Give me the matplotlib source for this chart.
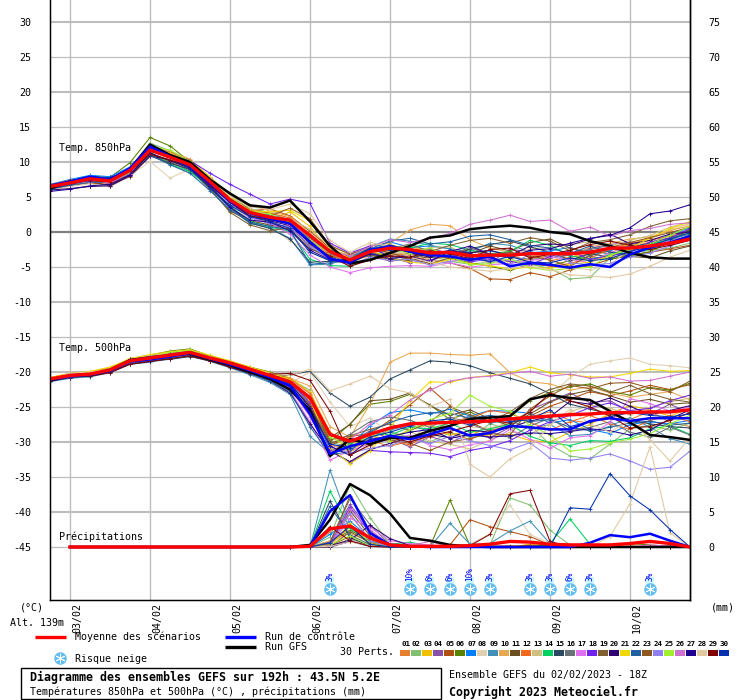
import matplotlib
matplotlib.use('Agg')
import matplotlib.pyplot as plt
from matplotlib.patches import Rectangle

MONO = 'DejaVu Sans Mono'

# Time axis, hours since 02/02 18Z
hours = list(range(0, 198, 6))
rain_hours = list(range(72, 198, 6))
rain_hours_long = list(range(6, 198, 6))
day_hours = [6, 30, 54, 78, 102, 126, 150, 174]
day_labels = ['03/02', '04/02', '05/02', '06/02', '07/02', '08/02', '09/02', '10/02']

pert_colors = ['#e67e30', '#80c070', '#f0c000', '#8a50a8', '#b05010', '#5a8000', '#0080ff', '#e0d0b0',
               '#4090b8', '#e8a850', '#6a5020', '#f06820', '#d0c080', '#00d060', '#2a4860', '#6a7078',
               '#e070f0', '#7020f0', '#806030', '#300070', '#f0d800', '#2060a0', '#905820', '#9080f0',
               '#a0f030', '#d070d0', '#200090', '#e0c8a0', '#800000', '#0030b0']

t850_mean = [6.5, 7.0, 7.6, 7.3, 8.8, 11.7, 10.7, 9.6, 7.2, 4.6, 2.8, 2.1, 1.7, -0.5, -2.8, -4.0, -2.8, -2.3, -2.5, -3.0, -2.9, -3.4, -3.3, -3.3, -3.1, -3.1, -3.1, -2.9, -2.3, -2.3, -2.0, -1.6, -1.0]
t850_ctrl = [6.6, 7.2, 7.9, 7.5, 9.1, 12.2, 10.8, 9.4, 6.9, 4.4, 2.7, 1.9, 1.2, -1.4, -3.8, -4.4, -2.6, -2.0, -2.8, -3.3, -3.5, -4.0, -3.5, -4.9, -4.4, -4.7, -5.1, -4.6, -5.0, -3.2, -2.2, -1.5, -0.6]
t850_gfs = [6.2, 7.2, 7.8, 7.5, 9.0, 12.5, 11.0, 10.0, 7.5, 5.5, 3.8, 3.5, 4.5, 1.5, -2.0, -4.5, -4.0, -3.0, -2.0, -0.8, -0.5, 0.4, 0.7, 0.9, 0.6, 0.0, -0.3, -1.3, -2.0, -3.0, -3.6, -3.8, -3.8]
t850_perts = [
    [6.4, 7.0, 7.5, 7.2, 8.5, 11.8, 10.9, 9.9, 7.4, 4.9, 2.6, 2.0, 1.4, -1.0, -3.1, -4.2, -3.4, -2.8, -2.1, -2.6, -3.4, -3.8, -3.0, -3.7, -2.9, -4.1, -3.6, -3.2, -2.4, -1.9, -1.5, -0.9, -0.2],
    [6.7, 7.3, 7.4, 7.0, 8.9, 12.7, 11.6, 9.9, 7.9, 5.0, 3.3, 2.8, 1.6, -1.8, -3.6, -4.6, -3.0, -3.1, -2.7, -3.4, -4.2, -4.6, -4.3, -3.9, -4.6, -5.2, -6.7, -6.5, -3.7, -3.1, -2.6, -2.3, -1.6],
    [6.6, 6.8, 7.1, 6.7, 8.2, 11.5, 11.0, 9.8, 7.3, 4.6, 2.2, 1.5, 2.9, 0.8, -2.7, -3.6, -2.2, -2.5, -1.9, -3.1, -3.8, -4.1, -3.6, -4.3, -3.8, -3.4, -2.9, -4.2, -3.0, -1.7, -0.9, 0.3, 1.2],
    [6.3, 6.9, 7.7, 7.6, 8.7, 11.1, 10.2, 9.1, 6.7, 4.2, 2.4, 1.1, 0.8, -2.2, -3.9, -4.3, -2.9, -3.6, -3.2, -2.4, -3.0, -3.3, -4.4, -2.5, -2.8, -3.7, -3.2, -2.3, -1.8, -1.4, -2.1, -1.2, -0.7],
    [6.1, 6.6, 7.0, 6.8, 7.9, 10.9, 10.3, 9.5, 7.0, 4.4, 3.0, 3.3, 2.3, 0.1, -2.3, -4.8, -3.7, -3.3, -3.0, -3.9, -4.4, -5.2, -6.7, -6.8, -5.8, -6.4, -5.4, -4.8, -3.9, -3.3, -2.9, -2.4, -1.9],
    [6.5, 7.3, 8.0, 7.8, 9.9, 13.5, 12.3, 10.0, 7.7, 5.3, 3.2, 2.5, 1.5, -1.3, -2.9, -3.4, -2.4, -1.8, -2.6, -3.6, -3.7, -4.4, -4.9, -5.5, -4.6, -4.8, -4.1, -3.5, -3.9, -3.4, -2.8, -1.4, 0.4],
    [6.8, 7.5, 8.1, 7.9, 9.3, 12.1, 11.2, 9.7, 7.1, 4.7, 2.9, 2.4, 1.8, -0.7, -3.2, -3.9, -2.5, -1.4, -2.2, -2.0, -2.4, -2.9, -2.7, -3.2, -3.0, -2.7, -2.2, -3.4, -2.6, -2.0, -1.7, -0.4, 0.6],
    [6.0, 6.5, 6.9, 6.4, 8.0, 10.1, 7.7, 9.0, 6.5, 3.9, 1.8, 0.9, -1.3, -2.8, -4.2, -4.1, -1.7, -2.7, -3.3, -3.9, -4.3, -3.5, -4.6, -4.4, -3.6, -4.8, -5.1, -5.4, -4.7, -2.4, -1.1, 0.4, 1.1],
    [6.2, 6.8, 7.3, 7.1, 8.4, 11.3, 10.0, 8.7, 6.3, 3.4, 1.2, 0.6, -0.9, -4.7, -4.6, -3.7, -2.1, -1.0, -1.3, -1.9, -2.4, -2.8, -1.6, -1.9, -2.8, -3.3, -3.0, -2.6, -3.2, -2.7, -1.8, -1.1, -0.3],
    [6.6, 7.1, 7.8, 7.4, 9.0, 12.4, 11.5, 10.4, 7.8, 5.2, 3.9, 3.0, 2.2, -0.2, -2.5, -3.3, -2.0, -1.6, 0.3, 1.1, 0.9, -1.1, -2.3, -2.9, -3.5, -3.0, -3.8, -2.1, -1.6, -1.0, -0.7, 0.2, 0.9],
    [6.3, 7.0, 7.2, 6.6, 8.1, 11.0, 9.9, 8.9, 6.1, 3.0, 1.6, 1.0, 0.4, -2.4, -3.5, -3.6, -3.3, -3.9, -4.1, -3.5, -2.9, -3.1, -2.0, -2.7, -1.5, -1.0, -2.3, -3.0, -2.8, -3.5, -3.7, -2.7, -2.0],
    [6.7, 7.4, 7.7, 7.3, 8.6, 11.9, 11.4, 10.3, 7.6, 4.8, 3.1, 2.7, 2.0, -1.1, -3.3, -4.0, -2.7, -2.9, -3.4, -4.1, -3.2, -2.5, -3.7, -3.1, -4.4, -4.9, -4.5, -3.7, -2.5, -1.6, -1.2, -0.6, 0.1],
    [6.4, 6.7, 7.4, 7.0, 8.3, 11.6, 10.5, 9.3, 7.5, 5.1, 3.4, 2.2, 1.9, 0.4, -2.1, -3.1, -2.3, -3.2, -2.9, -2.2, -2.1, -3.6, -3.9, -4.0, -2.4, -2.2, -1.8, -1.4, -2.0, -1.2, -0.5, 0.7, 1.4],
    [6.5, 7.2, 7.6, 7.7, 8.8, 11.4, 9.7, 8.6, 6.4, 3.7, 1.5, 0.7, 0.1, -3.9, -4.8, -4.9, -3.8, -3.0, -2.3, -1.6, -1.8, -2.6, -3.1, -2.8, -1.2, -1.9, -3.4, -3.9, -3.3, -2.1, -1.8, -1.0, -0.1],
    [6.2, 6.9, 7.5, 7.3, 8.6, 10.9, 9.8, 9.0, 6.6, 3.6, 1.3, 0.5, -1.0, -4.3, -4.2, -4.4, -3.1, -3.5, -3.8, -3.0, -3.6, -2.4, -1.8, -1.3, -2.1, -2.9, -4.0, -3.1, -3.6, -2.2, -1.6, -0.8, 0.2],
    [6.8, 7.1, 7.6, 7.2, 8.8, 12.0, 11.1, 9.5, 7.0, 4.5, 2.5, 1.7, 1.1, -0.9, -2.6, -3.5, -3.5, -2.4, -1.7, -2.8, -3.3, -2.2, -3.4, -3.6, -3.9, -3.7, -3.3, -2.5, -1.9, -2.6, -2.3, -1.7, -0.8],
    [6.4, 7.0, 7.3, 6.9, 8.5, 11.7, 10.8, 9.7, 7.3, 4.3, 2.1, 1.3, -0.3, -3.3, -5.0, -5.8, -5.1, -4.9, -4.8, -4.9, -4.4, -5.0, -4.7, -4.5, -4.1, -3.6, -3.9, -4.4, -2.9, -2.2, -1.9, -1.3, -0.5],
    [6.6, 7.3, 7.9, 7.5, 9.2, 12.3, 11.3, 10.2, 8.4, 6.8, 5.4, 4.0, 4.7, 4.1, -1.6, -3.0, -2.0, -3.6, -4.4, -4.0, -3.1, -4.3, -3.8, -4.2, -4.7, -3.5, -2.7, -3.9, -3.4, -2.9, -1.4, -0.9, 0.5],
    [6.3, 6.8, 7.4, 7.0, 8.2, 11.2, 10.1, 9.2, 6.2, 2.8, 1.0, 0.2, 0.6, -1.9, -3.4, -4.3, -3.2, -4.2, -3.7, -2.8, -1.9, -1.2, -0.9, -1.6, -0.8, -1.3, -2.7, -1.5, -1.1, -0.4, 0.8, 1.6, 1.9],
    [6.0, 6.2, 6.5, 6.6, 8.0, 10.8, 10.4, 9.4, 6.8, 4.1, 2.3, 1.6, 0.9, -1.6, -3.7, -4.5, -2.8, -2.2, -3.0, -3.6, -2.7, -3.0, -2.6, -3.4, -2.0, -1.7, -1.9, -1.0, -0.3, -1.7, -1.2, -0.3, 0.0],
    [6.7, 7.2, 7.5, 7.4, 9.0, 12.1, 11.3, 10.1, 7.9, 4.9, 3.0, 2.9, 3.1, 1.6, -2.2, -3.8, -2.6, -3.7, -4.3, -4.6, -3.9, -4.5, -4.8, -5.3, -5.0, -5.2, -4.6, -4.3, -3.4, -2.3, -0.9, 0.5, 1.5],
    [6.1, 6.7, 7.1, 7.1, 8.4, 11.0, 9.6, 8.4, 5.9, 3.2, 1.4, 0.8, 0.3, -4.6, -4.4, -3.8, -2.4, -1.3, -0.9, -1.7, -1.4, -0.6, -0.4, -1.1, -1.9, -2.3, -3.1, -2.0, -2.9, -3.2, -2.4, -1.6, -0.4],
    [6.5, 7.1, 7.6, 6.9, 8.6, 11.6, 10.6, 9.8, 7.1, 4.8, 2.7, 2.3, 3.4, 1.9, -1.9, -3.2, -2.2, -3.0, -3.8, -4.5, -3.7, -4.0, -3.3, -2.9, -3.4, -4.0, -4.9, -3.3, -2.2, -1.5, -0.8, -0.1, 0.7],
    [6.4, 6.9, 7.2, 7.3, 8.7, 11.5, 10.9, 9.6, 6.9, 4.0, 2.0, 1.2, 0.7, -2.0, -3.8, -4.7, -3.6, -4.1, -3.9, -4.7, -4.2, -3.9, -4.1, -4.6, -3.2, -2.8, -4.4, -4.7, -4.5, -3.6, -3.0, -2.0, -1.1],
    [6.6, 7.0, 7.7, 7.1, 8.5, 12.2, 11.7, 10.1, 7.6, 5.0, 2.9, 2.6, 1.3, -1.2, -3.0, -3.7, -2.9, -2.3, -3.1, -2.3, -3.5, -4.7, -4.5, -3.8, -5.1, -5.5, -5.2, -5.0, -3.3, -2.5, -1.7, -0.5, 0.8],
    [6.5, 7.2, 7.5, 7.0, 8.3, 11.9, 11.0, 9.4, 7.2, 4.4, 2.6, 2.1, 1.0, -0.6, -2.8, -3.4, -2.1, -1.1, -1.5, -0.9, -0.2, 1.1, 1.7, 2.4, 1.5, 1.7, 0.1, 0.7, -0.6, 0.2, 0.5, 1.1, 1.3],
    [5.8, 6.1, 6.6, 6.8, 8.2, 11.3, 10.2, 9.1, 6.4, 3.5, 1.7, 1.4, 0.2, -2.6, -4.0, -4.4, -3.1, -3.8, -3.5, -4.2, -2.8, -2.0, -3.2, -3.7, -2.6, -2.4, -1.6, -0.9, -0.5, 0.6, 2.6, 3.0, 3.9],
    [6.3, 6.9, 7.8, 7.6, 8.9, 11.8, 10.4, 9.6, 7.7, 5.1, 3.6, 3.2, 4.0, 2.6, -1.2, -2.9, -1.5, -2.1, -3.6, -4.3, -5.0, -5.3, -5.6, -5.2, -4.9, -5.4, -6.1, -6.3, -6.5, -6.0, -4.9, -3.6, -2.6],
    [6.7, 7.3, 7.3, 7.2, 8.7, 11.1, 10.3, 9.3, 6.6, 4.3, 2.3, 1.8, 1.2, -1.5, -3.5, -4.9, -4.0, -3.4, -3.6, -2.7, -3.1, -3.8, -2.5, -2.3, -3.7, -3.2, -2.6, -1.8, -1.3, -1.9, -2.5, -1.9, -1.2],
    [6.2, 6.8, 7.4, 7.8, 8.8, 12.0, 10.7, 9.0, 6.3, 3.8, 2.2, 1.5, 0.5, -2.9, -4.1, -3.9, -2.3, -2.6, -2.4, -3.2, -2.6, -3.7, -4.2, -3.5, -4.3, -4.4, -3.7, -4.1, -3.8, -2.8, -2.0, -1.0, -0.1],
]

t500_mean = [-21.0, -20.5, -20.3, -19.7, -18.4, -18.0, -17.6, -17.2, -18.0, -18.7, -19.6, -20.5, -21.4, -23.7, -28.9, -29.9, -28.9, -28.0, -27.4, -27.3, -27.2, -27.1, -27.0, -26.7, -26.5, -26.3, -26.1, -26.0, -25.8, -25.8, -25.7, -25.7, -25.4]
t500_ctrl = [-21.1, -20.6, -20.4, -19.8, -18.5, -18.2, -17.8, -17.3, -18.1, -18.9, -19.8, -20.8, -22.0, -26.0, -31.7, -30.6, -29.9, -29.1, -29.6, -28.9, -28.0, -29.1, -28.7, -27.7, -27.9, -28.2, -28.2, -27.0, -26.6, -27.0, -26.6, -26.6, -26.6]
t500_gfs = [-21.2, -20.5, -20.4, -19.7, -18.3, -18.1, -17.6, -17.4, -18.2, -19.0, -20.0, -21.0, -22.5, -25.5, -32.0, -29.6, -30.3, -29.4, -29.4, -28.4, -27.7, -26.7, -26.5, -26.3, -23.9, -23.3, -23.7, -24.0, -25.6, -27.2, -29.0, -29.3, -29.7]
t500_perts = [
    [-21.0, -20.4, -20.2, -19.6, -18.3, -18.0, -17.5, -17.1, -17.9, -18.8, -19.7, -20.4, -21.2, -23.5, -30.4, -31.1, -29.8, -30.6, -29.9, -29.3, -28.6, -29.7, -28.1, -27.3, -26.4, -25.7, -26.9, -27.3, -26.1, -26.8, -25.6, -27.2, -27.8],
    [-21.1, -20.5, -20.5, -19.5, -18.6, -18.4, -17.3, -16.9, -18.0, -18.7, -19.5, -20.3, -21.0, -22.6, -29.9, -30.9, -29.2, -28.5, -29.4, -30.0, -28.7, -29.3, -27.4, -28.2, -27.5, -30.4, -32.0, -32.4, -30.3, -28.1, -27.6, -28.3, -27.3],
    [-20.9, -20.3, -20.0, -19.4, -18.2, -17.7, -17.4, -17.0, -17.8, -18.6, -19.4, -20.1, -20.8, -22.9, -28.6, -31.4, -30.1, -29.6, -28.2, -27.5, -29.0, -28.4, -29.2, -28.9, -29.8, -30.0, -28.6, -27.5, -25.9, -24.8, -25.4, -26.3, -25.2],
    [-21.2, -20.7, -20.3, -19.8, -18.7, -18.3, -17.9, -17.5, -18.2, -19.1, -20.0, -20.9, -21.9, -25.2, -30.9, -30.0, -28.4, -29.5, -30.7, -29.2, -30.1, -28.8, -29.4, -27.9, -25.4, -24.2, -23.0, -24.4, -24.1, -25.7, -26.0, -24.6, -25.9],
    [-21.3, -20.8, -20.6, -20.0, -18.8, -18.5, -18.0, -17.6, -18.4, -19.3, -20.2, -21.1, -22.4, -25.8, -30.5, -29.2, -28.8, -26.9, -24.7, -22.3, -24.8, -27.2, -28.4, -27.6, -26.3, -24.9, -23.9, -22.8, -23.4, -22.7, -21.9, -22.5, -21.8],
    [-20.8, -20.3, -20.1, -19.5, -18.1, -17.6, -17.0, -16.7, -17.7, -18.5, -19.3, -20.0, -21.1, -24.1, -30.0, -27.4, -24.6, -24.2, -23.2, -24.7, -26.8, -25.7, -27.1, -26.4, -24.1, -22.9, -22.1, -21.7, -22.8, -23.3, -22.2, -22.6, -21.6],
    [-21.1, -20.6, -20.3, -19.7, -18.4, -18.0, -17.8, -17.4, -18.1, -18.9, -19.8, -20.7, -21.8, -24.9, -31.2, -30.5, -27.7, -25.8, -25.4, -26.0, -25.3, -26.3, -25.5, -25.6, -25.9, -27.3, -26.8, -28.2, -28.8, -27.5, -27.1, -27.4, -26.9],
    [-20.9, -20.4, -20.4, -19.8, -18.0, -17.6, -17.4, -17.1, -18.1, -19.0, -19.9, -20.6, -21.6, -20.0, -24.3, -27.8, -26.6, -28.7, -29.6, -27.4, -26.5, -27.9, -28.0, -27.2, -25.5, -23.4, -20.8, -18.9, -18.4, -18.0, -18.9, -19.1, -19.4],
    [-21.4, -20.9, -20.7, -20.1, -18.9, -18.6, -18.1, -17.7, -18.5, -19.4, -20.4, -21.5, -23.2, -29.2, -31.6, -31.0, -29.4, -28.3, -27.6, -28.5, -27.8, -26.2, -27.3, -26.9, -28.1, -27.5, -29.1, -28.9, -27.7, -26.5, -27.9, -29.5, -30.3],
    [-21.0, -20.5, -20.2, -19.6, -18.5, -18.1, -17.6, -17.2, -18.0, -18.6, -19.6, -20.2, -20.9, -22.0, -27.8, -29.3, -24.6, -18.6, -17.3, -17.3, -17.5, -17.6, -17.4, -20.1, -21.4, -21.7, -22.6, -22.1, -23.0, -23.6, -23.2, -22.8, -24.0],
    [-21.2, -20.6, -20.5, -19.9, -18.6, -18.2, -17.9, -17.5, -18.3, -19.2, -20.1, -21.0, -22.1, -24.6, -29.4, -27.5, -24.1, -23.9, -23.0, -24.8, -26.2, -25.4, -26.7, -27.7, -26.0, -24.3, -23.2, -22.6, -23.4, -24.3, -23.9, -24.6, -24.4],
    [-20.8, -20.2, -20.0, -19.4, -18.2, -17.8, -17.3, -16.9, -17.7, -18.6, -19.4, -20.2, -21.0, -23.1, -29.0, -30.3, -29.1, -29.9, -30.4, -28.8, -27.0, -26.6, -25.5, -25.9, -27.2, -28.3, -27.1, -26.2, -27.4, -28.2, -26.9, -26.2, -27.1],
    [-21.1, -20.7, -20.1, -19.7, -18.2, -17.9, -17.5, -17.3, -17.9, -18.7, -19.5, -20.5, -21.5, -24.3, -30.2, -31.7, -30.6, -29.2, -28.5, -29.9, -30.3, -31.0, -29.7, -28.6, -28.9, -27.4, -25.7, -24.7, -25.2, -26.1, -25.0, -24.3, -23.7],
    [-21.0, -20.5, -20.4, -19.9, -18.3, -18.0, -17.7, -17.2, -18.2, -18.8, -19.9, -20.8, -21.7, -25.5, -31.9, -30.2, -28.7, -29.0, -27.9, -28.1, -27.3, -28.6, -28.1, -27.5, -29.2, -30.1, -30.5, -29.8, -29.9, -29.4, -28.1, -27.7, -28.9],
    [-21.3, -20.7, -20.6, -20.0, -18.7, -18.4, -18.2, -17.8, -18.4, -19.2, -20.3, -20.9, -20.4, -19.9, -23.0, -24.9, -23.6, -21.0, -19.7, -18.4, -18.6, -19.1, -20.1, -20.9, -21.7, -23.1, -24.6, -25.3, -26.0, -26.9, -27.4, -27.8, -28.0],
    [-21.1, -20.4, -20.2, -19.5, -18.4, -17.9, -17.6, -17.4, -18.1, -18.8, -19.7, -20.6, -21.4, -24.7, -30.3, -28.9, -27.1, -26.4, -26.9, -27.9, -26.4, -27.4, -28.5, -29.4, -27.7, -26.6, -28.4, -27.9, -27.1, -28.6, -29.3, -27.9, -29.0],
    [-21.2, -20.6, -20.4, -19.8, -18.5, -18.1, -17.8, -17.5, -18.0, -18.9, -20.0, -21.2, -22.7, -27.1, -32.6, -31.2, -30.3, -29.6, -29.0, -30.5, -31.1, -30.4, -29.9, -28.2, -29.6, -30.9, -29.4, -29.1, -27.2, -23.8, -24.5, -25.6, -25.0],
    [-21.0, -20.3, -20.3, -19.6, -18.3, -18.0, -17.4, -17.0, -17.8, -18.6, -19.5, -20.4, -21.3, -24.4, -31.0, -33.0, -31.2, -31.4, -31.5, -31.6, -32.1, -31.2, -30.7, -29.8, -28.3, -27.1, -26.2, -25.1, -24.4, -25.5, -25.2, -24.1, -23.3],
    [-20.9, -20.5, -20.2, -19.7, -18.6, -18.3, -17.7, -17.3, -18.2, -19.1, -20.1, -21.0, -22.0, -25.0, -29.7, -29.1, -28.2, -27.4, -28.4, -27.1, -25.0, -26.1, -27.1, -25.7, -23.8, -22.5, -21.7, -22.0, -22.9, -21.9, -23.1, -23.9, -24.3],
    [-21.3, -20.8, -20.5, -20.0, -18.8, -18.5, -18.0, -17.6, -18.3, -19.3, -20.2, -21.3, -23.0, -27.4, -31.3, -32.8, -31.1, -30.2, -29.3, -28.9, -29.4, -28.3, -28.6, -27.9, -27.0, -26.4, -24.2, -24.6, -23.7, -24.9, -26.1, -25.5, -24.8],
    [-20.8, -20.2, -19.9, -19.3, -18.1, -17.5, -17.1, -16.8, -17.6, -18.4, -19.3, -20.1, -21.1, -24.0, -30.8, -33.1, -31.3, -28.0, -24.1, -21.4, -21.5, -20.8, -20.5, -20.1, -19.3, -20.1, -20.4, -20.7, -20.7, -20.2, -19.6, -19.9, -19.8],
    [-21.2, -20.7, -20.6, -19.9, -18.7, -18.4, -18.0, -17.6, -18.3, -19.2, -20.2, -21.3, -22.8, -27.8, -31.8, -31.4, -28.5, -27.2, -26.3, -25.8, -25.9, -26.6, -26.2, -26.6, -27.1, -26.8, -27.9, -28.4, -27.9, -27.3, -27.0, -27.6, -27.3],
    [-21.0, -20.6, -20.3, -19.6, -18.4, -18.1, -17.7, -17.1, -17.9, -18.7, -19.7, -20.7, -21.9, -24.8, -30.1, -29.5, -29.9, -29.7, -30.2, -31.2, -30.0, -29.5, -28.8, -29.0, -25.3, -23.4, -21.9, -22.4, -21.6, -21.5, -22.3, -22.8, -21.3],
    [-21.1, -20.5, -20.4, -19.8, -18.5, -18.2, -17.8, -17.4, -18.1, -19.0, -20.0, -20.8, -21.7, -25.3, -30.7, -31.6, -30.9, -30.5, -29.5, -30.2, -29.2, -29.8, -30.5, -31.1, -30.1, -32.3, -32.6, -32.3, -31.7, -32.7, -33.9, -33.6, -31.3],
    [-20.9, -20.4, -20.1, -19.5, -18.3, -17.9, -17.2, -16.9, -17.8, -18.6, -19.6, -20.5, -21.4, -23.9, -29.3, -30.7, -29.0, -29.8, -28.3, -26.8, -25.9, -23.3, -24.9, -25.6, -27.6, -29.0, -31.3, -31.0, -30.1, -29.6, -28.8, -27.4, -26.2],
    [-21.2, -20.6, -20.5, -19.7, -18.6, -18.2, -17.9, -17.5, -18.2, -18.9, -19.8, -20.9, -22.3, -26.4, -31.5, -29.7, -27.4, -26.1, -24.0, -22.6, -21.3, -20.8, -20.6, -20.2, -19.9, -20.6, -20.3, -20.9, -20.7, -21.3, -21.2, -20.6, -20.0],
    [-21.0, -20.3, -20.2, -19.8, -18.2, -17.8, -17.5, -17.3, -18.0, -18.9, -19.9, -20.7, -21.6, -25.1, -30.6, -31.9, -29.6, -29.2, -28.6, -28.2, -29.5, -28.9, -29.3, -29.1, -28.7, -28.8, -28.5, -28.1, -28.4, -29.0, -28.3, -26.7, -25.4],
    [-21.1, -20.2, -20.0, -19.6, -18.5, -18.1, -17.6, -17.2, -17.9, -18.8, -19.6, -20.2, -20.5, -19.6, -22.7, -21.7, -20.6, -22.4, -23.0, -24.9, -23.9, -33.2, -35.0, -32.4, -30.9, -27.6, -25.3, -27.4, -28.6, -26.8, -29.7, -32.7, -29.4],
    [-21.3, -20.6, -20.6, -20.1, -18.9, -18.5, -18.1, -17.7, -18.4, -19.3, -20.1, -20.3, -20.2, -21.2, -25.6, -31.9, -30.4, -29.4, -30.0, -29.1, -28.5, -27.7, -26.9, -27.3, -25.7, -23.0, -24.1, -25.0, -26.3, -28.0, -27.8, -26.9, -25.8],
    [-21.0, -20.5, -20.3, -19.9, -18.4, -18.0, -17.8, -17.4, -18.1, -19.0, -19.9, -20.6, -21.8, -25.7, -30.3, -30.8, -29.3, -28.6, -27.7, -27.0, -26.7, -27.6, -26.4, -27.1, -26.8, -25.4, -27.8, -27.1, -26.4, -25.8, -26.2, -26.4, -26.0],
]

rain_mean = [0, 0, 0, 0, 0, 0, 0, 0, 0, 0, 0, 0, 0.1, 2.6, 3.0, 1.3, 0.3, 0.1, 0.1, 0.1, 0.2, 0.4, 0.8, 0.7, 0.4, 0.3, 0.3, 0.3, 0.5, 0.8, 0.5, 0]
rain_ctrl = [0, 0, 0, 0, 0, 0, 0, 0, 0, 0, 0, 0, 0.1, 5.1, 7.4, 2.0, 0.3, 0.1, 0, 0, 0, 0, 0, 0, 0, 0, 0.6, 1.7, 1.4, 1.9, 0.9, 0]
rain_gfs = [0, 0, 0, 0, 0, 0, 0, 0, 0, 0, 0, 0, 0.3, 3.9, 9.0, 7.4, 4.8, 1.3, 0.9, 0.3, 0.1, 0, 0, 0, 0, 0, 0, 0, 0, 0, 0, 0]
rain_perts = [
    [0, 0, 2.1, 4.6, 1.1, 0.2, 0, 0, 0, 0, 0.1, 0.2, 0, 0, 0, 0, 0, 0, 0.1, 0, 0],
    [0, 0, 1.4, 8.9, 4.2, 0.4, 0, 0, 0, 0, 0.3, 7.0, 6.0, 2.4, 0.3, 0, 0, 0, 0, 0, 0],
    [0, 0, 0.3, 2.8, 0.6, 0, 0, 0, 0, 0, 0, 0, 0.4, 0.2, 0, 0, 0, 0, 0.2, 0, 0],
    [0, 0, 0.8, 6.1, 2.3, 0.1, 0, 0, 0, 0, 0, 0, 0, 0, 0, 0, 0.1, 0, 0, 0, 0],
    [0, 0, 0.2, 1.5, 0.4, 0, 0, 0, 0.3, 3.9, 2.9, 2.2, 1.5, 0.3, 0, 0, 0, 0, 0, 0, 0],
    [0, 0, 0.5, 2.4, 0.9, 0, 0, 0.1, 6.7, 0.2, 0, 0, 0.1, 0, 0, 0, 0, 0.5, 0.3, 0.1, 0],
    [0, 0, 1.8, 3.7, 1.2, 0.1, 0.2, 0, 0, 0, 0, 0, 0, 0.2, 0.1, 0, 0, 0, 0, 0, 0],
    [0, 0, 0.6, 1.9, 0.2, 0, 0.5, 0, 0, 0.4, 1.9, 6.0, 1.8, 0.5, 0, 0, 0, 0, 0, 0, 0],
    [0, 0, 11.0, 3.2, 0.5, 0, 0, 0, 3.4, 0.4, 0.5, 2.3, 3.7, 0.5, 0, 0, 0, 0, 0, 0, 0],
    [0, 0, 0.9, 2.0, 0.7, 0, 0, 0, 0, 0, 0, 0, 0, 0, 0, 0, 0, 0.2, 0, 0, 0],
    [0, 0, 0.4, 5.2, 1.6, 0.1, 0, 0, 0, 0, 0, 0, 0, 0.1, 0, 0, 0, 0, 0, 0.2, 0],
    [0, 0, 0.2, 3.1, 0.3, 0, 0, 0, 0, 0, 0.1, 0, 0.3, 0, 0, 0, 0, 0, 0, 0, 0],
    [0, 0, 0, 1.2, 0.1, 0, 0, 0, 0, 0, 0, 0, 0, 0, 0, 0, 0.2, 0.1, 0, 0, 0],
    [0, 0, 8.0, 2.7, 0.8, 0.4, 0.7, 0.1, 0, 0, 0, 0, 0, 0.5, 4.0, 0.4, 0, 0, 0, 0, 0],
    [0, 0, 6.6, 1.3, 0.2, 0, 0, 0, 0, 0, 0, 0, 0, 0, 0, 0, 0, 0, 0, 0, 0],
    [0, 0, 0.7, 6.9, 3.2, 0.3, 0, 0, 0, 0, 0, 0, 0.1, 0, 0, 0, 0, 0, 0, 0, 0],
    [0, 0, 0.1, 4.1, 2.8, 0.9, 0.5, 0.3, 0, 0, 0, 0, 0, 0, 0, 0, 0, 0, 0.3, 0.1, 0],
    [0, 0, 0.3, 5.7, 2.0, 0.2, 0, 0, 0, 0, 0, 0, 0, 0, 0, 0, 0, 0, 0, 0, 0],
    [0, 0, 0, 2.2, 0.6, 0, 0, 0, 0, 0, 0, 0, 0, 0.3, 0.1, 0, 0, 0, 0, 0, 0],
    [0, 0, 0.2, 1.0, 3.1, 1.2, 0.2, 0, 0, 0, 0, 0, 0, 0, 0, 0, 0, 0, 0, 0, 0],
    [0, 0, 0, 3.4, 0.5, 0, 0, 0, 0, 0, 0, 0.1, 0, 0, 0, 0, 0, 0, 0.1, 0, 0],
    [0, 0, 5.8, 1.7, 0.3, 0, 0, 0, 0, 0, 0, 0, 0, 0, 0, 0, 0, 0, 0, 0, 0],
    [0, 0, 0.5, 7.3, 1.9, 0.2, 0, 0, 0, 0, 0, 0, 0.2, 0, 0, 0, 0, 0, 0, 0, 0],
    [0, 0, 0.1, 4.8, 0.9, 0, 0, 0, 0, 0, 0, 0, 0, 0, 0, 0, 0, 0.1, 0, 0, 0],
    [0, 0, 0.3, 1.6, 0.2, 0, 0, 0, 0, 0, 0, 0, 0, 0, 0.1, 0, 0, 0, 0, 0, 0],
    [0, 0, 0.2, 5.4, 2.5, 0.3, 0.2, 0.8, 0, 0, 0, 0, 0, 0, 0, 0, 0, 0, 0, 0, 0],
    [0, 0, 0, 0.8, 0.1, 0, 0, 0, 0, 0, 0, 0, 0, 0, 0, 0, 0, 0, 0, 0, 0],
    [0, 0, 0.1, 0.7, 0.2, 0, 0, 0, 0, 0, 0.4, 0, 0, 0, 0, 0, 1.5, 6.2, 14.3, 2.0, 0],
    [0, 0, 2.9, 0.9, 0.1, 0, 0, 0, 0, 0.2, 1.8, 7.6, 8.1, 0.8, 0, 0, 0, 0, 0, 0, 0],
    [0, 0, 0.6, 3.0, 0.4, 0, 0, 0, 0, 0, 0, 0, 0, 0, 5.6, 5.4, 10.5, 7.3, 5.3, 2.5, 0],
]

snow_hours = [84, 108, 114, 120, 126, 132, 144, 150, 156, 162, 180]
snow_pct = [3, 10, 6, 6, 10, 3, 3, 3, 6, 3, 3]

left_ticks = list(range(-45, 35, 5))
right_ticks = list(range(0, 80, 5))

fig = plt.figure(figsize=(7.4, 7), dpi=100)
ax = fig.add_axes([50 / 740, 100 / 700, 640 / 740, 600 / 700])
ax.set_xlim(0, 192)
ax.set_ylim(-52.57, 33.14)

# Grid
for h in day_hours:
    ax.axvline(h, color='#bdbdbd', lw=1.0, zorder=1)
for v in left_ticks:
    if v == 0:
        ax.axhline(v, color='#808080', lw=1.6, zorder=1)
    else:
        ax.axhline(v, color='#bdbdbd', lw=1.5 if v % 10 == 0 else 0.9, zorder=1)

# Members
for color, a, b, c in zip(pert_colors, t850_perts, t500_perts, rain_perts):
    for xs, ys in ((hours, a), (hours, b)):
        ax.plot(xs, ys, color=color, lw=0.75, marker='+', ms=2.5, mew=0.6, zorder=2)
    ax.plot(rain_hours, [v - 45 for v in c], color=color, lw=0.75, marker='+', ms=2.5, mew=0.6, zorder=2)

# Control, GFS, mean on top
for a, b, c, color, z, w in ((t850_gfs, t500_gfs, rain_gfs, 'black', 3, 1.8),
                             (t850_ctrl, t500_ctrl, rain_ctrl, '#0000ff', 4, 1.8),
                             (t850_mean, t500_mean, rain_mean, '#ff0000', 5, 2.4)):
    ax.plot(hours, a, color=color, lw=w, zorder=z)
    ax.plot(hours, b, color=color, lw=w, zorder=z)
    ax.plot(rain_hours_long, [v - 45 for v in c], color=color, lw=w, zorder=z)

# Snow risk
for h, p in zip(snow_hours, snow_pct):
    ax.plot(h, -49.9, marker='s', ms=6, color='#c8f8fc', mew=0, zorder=3, clip_on=False)
    ax.plot(h, -51, marker='o', ms=9, color='#62bdf0', mew=0, zorder=4)
    ax.plot(h, -51, marker=(6, 2, 0), ms=7, color='white', mew=0.6, zorder=5)
    ax.text(h, -49.8, f'{p}%', rotation=90, ha='center', va='bottom', color='#0000ff', family=MONO, fontsize=5.5, zorder=6)

# Axes
ax.spines['top'].set_visible(False)
for s in ('left', 'right', 'bottom'):
    ax.spines[s].set_linewidth(1.0)
ax.set_yticks(left_ticks)
ax.set_yticklabels([str(v) for v in left_ticks], family=MONO, fontsize=7.2)
ax.tick_params(axis='y', length=0, pad=13.5)
ax.set_xticks([])

ax2 = ax.twinx()
ax2.set_ylim(-52.57 + 45, 33.14 + 45)
ax2.set_yticks(right_ticks)
ax2.set_yticklabels([str(v) for v in right_ticks], family=MONO, fontsize=7.2)
ax2.tick_params(axis='y', length=0, pad=13.5)
ax2.spines['top'].set_visible(False)
ax2.spines['right'].set_linewidth(1.0)

for h, lab in zip(day_hours, day_labels):
    ax.text(h + 2.1, -53.0, lab, rotation=90, ha='center', va='top', family=MONO, fontsize=7.2, clip_on=False)

# Legend and titles, placed in pixel coordinates
over = fig.add_axes([0, 0, 1, 1], zorder=10)
over.set_xlim(0, 740)
over.set_ylim(700, 0)
over.axis('off')
over.patch.set_alpha(0)


def label(x, y, s, size=7.2, weight='normal', ha='left'):
    over.text(x, y, s, family=MONO, fontsize=size, fontweight=weight, ha=ha, va='center')


label(59, 148, 'Temp. 850hPa')
label(59, 348, 'Temp. 500hPa')
label(59, 537, 'Précipitations')
label(20, 607, '(°C)')
label(10, 623, 'Alt. 139m')
label(711, 607, '(mm)')

over.plot([35, 66], [637, 637], color='#ff0000', lw=2.4, solid_capstyle='butt')
label(75, 637, 'Moyenne des scénarios')
over.plot([225, 256], [637, 637], color='#0000ff', lw=2.4, solid_capstyle='butt')
label(265, 637, 'Run de contrôle')
over.plot([225, 256], [647, 647], color='black', lw=2.4, solid_capstyle='butt')
label(265, 647, 'Run GFS')
over.plot(60, 658, marker='o', ms=9, color='#62bdf0', mew=0)
over.plot(60, 658, marker=(6, 2, 0), ms=7, color='white', mew=0.6)
label(75, 659, 'Risque neige')
label(340, 652, '30 Perts.')

for i, color in enumerate(pert_colors):
    over.add_patch(Rectangle((400 + i * 11, 650), 10, 6, color=color, lw=0))
    over.text(405.5 + i * 11, 644, f'{i + 1:02d}', family=MONO, fontsize=5.4, fontweight='bold', ha='center', va='center')

over.add_patch(Rectangle((20.5, 667.5), 420, 31.5, fill=False, ec='black', lw=1.0))
label(30, 677, 'Diagramme des ensembles GEFS sur 192h : 43.5N 5.2E', size=8.4, weight='bold')
label(30, 692, 'Températures 850hPa et 500hPa (°C) , précipitations (mm)')
label(449, 675, 'Ensemble GEFS du 02/02/2023 - 18Z')
label(449, 692, 'Copyright 2023 Meteociel.fr', size=8.4, weight='bold')

fig.savefig('out.png', dpi=100)
